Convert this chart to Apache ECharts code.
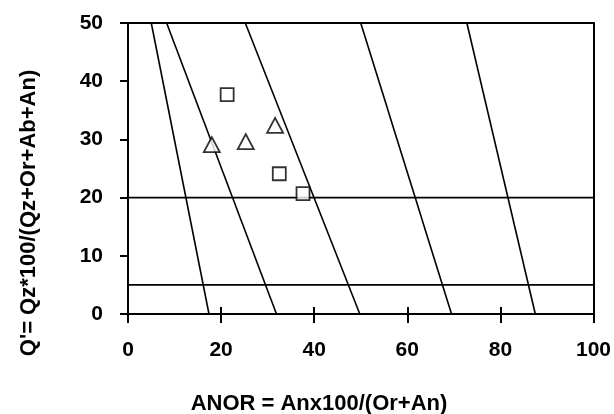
<!DOCTYPE html>
<html><head><meta charset="utf-8">
<script src="https://cdn.jsdelivr.net/npm/echarts@6/dist/echarts.min.js"></script>
<style>html,body{margin:0;padding:0;background:#fff}#c{width:614px;height:414px}</style>
</head><body><div id="c"></div>
<script>
const xTicks = [0, 20, 40, 60, 80, 100];
const yTicks = [0, 10, 20, 30, 40, 50];
const diagTopX = [5, 8.3, 25.2, 50, 72.8];      // x where each sloping line meets Q'=50
const diagBottomX = [17.4, 31.9, 49.8, 69.5, 87.5]; // x where each sloping line meets Q'=0
const hLineY = [5, 20];
const squares = [[21.3, 37.7], [32.5, 24.1], [37.6, 20.7]];
const triangles = [[18.0, 29.1], [25.3, 29.6], [31.6, 32.4]];
const xName = 'ANOR = Anx100/(Or+An)';
const yName = "Q'= Qz*100/(Qz+Or+Ab+An)";

const FONT = '"Liberation Sans", Arial, sans-serif';
const chart = echarts.init(document.getElementById('c'), null, {renderer: 'canvas'});
const lineStyle = {color: '#000', width: 1.6};
const series = [];
diagTopX.forEach((t, i) => {
  series.push({type: 'line', data: [[t, 50], [diagBottomX[i], 0]], symbol: 'none', lineStyle, silent: true, z: 3});
});
hLineY.forEach(y => {
  series.push({type: 'line', data: [[0, y], [100, y]], symbol: 'none', lineStyle, silent: true, z: 3});
});
series.push({type: 'scatter', data: squares, symbol: 'rect', symbolSize: 13,
  itemStyle: {color: '#fff', borderColor: '#000', borderWidth: 1.8}, z: 5});
series.push({type: 'scatter', data: triangles, symbol: 'triangle', symbolSize: [16, 15],
  itemStyle: {color: '#fff', borderColor: '#000', borderWidth: 1.8}, z: 5});

const axisLine = {show: true, onZero: false, lineStyle: {color: '#000', width: 2}};
chart.setOption({
  animation: false,
  grid: {left: 128, right: 19, top: 23, bottom: 100},
  xAxis: [
    {type: 'value', min: xTicks[0], max: xTicks[xTicks.length - 1], interval: 20, position: 'bottom',
     axisLine, splitLine: {show: false},
     axisTick: {show: true, length: 9, lineStyle: {color: '#000', width: 2}},
     axisLabel: {margin: 26, color: '#000', fontFamily: FONT, fontWeight: 'bold', fontSize: 21}},
    {type: 'value', min: 0, max: 100, interval: 20, position: 'bottom',
     axisLine, splitLine: {show: false},
     axisTick: {show: true, inside: true, length: 7, lineStyle: {color: '#000', width: 2}},
     axisLabel: {show: false}},
    {type: 'value', min: 0, max: 100, position: 'top', axisLine,
     axisTick: {show: false}, axisLabel: {show: false}, splitLine: {show: false}}
  ],
  yAxis: [
    {type: 'value', min: yTicks[0], max: yTicks[yTicks.length - 1], interval: 10, position: 'left',
     axisLine, splitLine: {show: false},
     axisTick: {show: true, length: 8, lineStyle: {color: '#000', width: 2}},
     axisLabel: {margin: 25, color: '#000', fontFamily: FONT, fontWeight: 'bold', fontSize: 21}},
    {type: 'value', min: 0, max: 50, position: 'right', axisLine,
     axisTick: {show: false}, axisLabel: {show: false}, splitLine: {show: false}}
  ],
  graphic: [
    {type: 'text', x: 319, y: 404, style: {text: xName, fill: '#000', font: 'bold 22px "Liberation Sans", Arial, sans-serif', align: 'center', verticalAlign: 'middle'}},
    {type: 'text', x: 29, y: 213, rotation: Math.PI / 2, style: {text: yName, fill: '#000', font: 'bold 22px "Liberation Sans", Arial, sans-serif', align: 'center', verticalAlign: 'middle'}}
  ],
  series
});
</script></body></html>
